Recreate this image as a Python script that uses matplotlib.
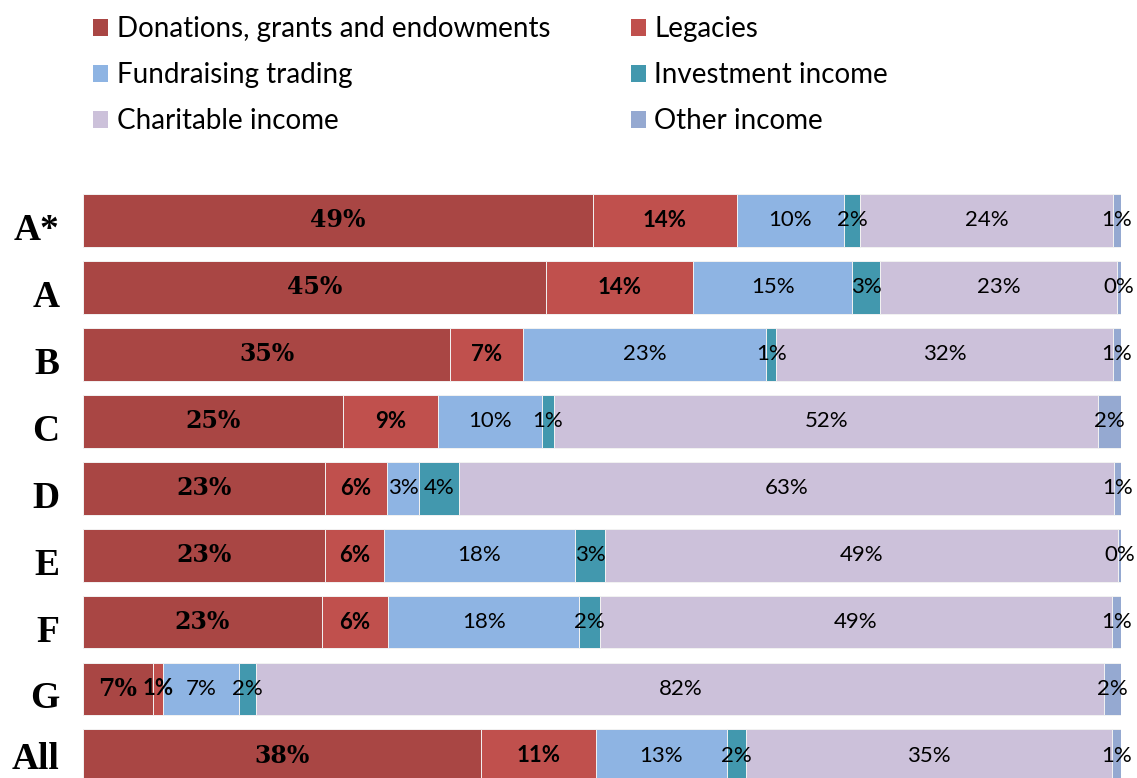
import matplotlib
matplotlib.use("Agg")
import matplotlib.pyplot as plt
from matplotlib.patches import Patch
from matplotlib.transforms import ScaledTranslation
import numpy as np

categories = ["A*", "A", "B", "C", "D", "E", "F", "G", "All"]
series_names = ["Donations, grants and endowments", "Legacies", "Fundraising trading",
                "Investment income", "Charitable income", "Other income"]
donations   = [49.1, 44.6, 35.4, 25.0, 23.3, 23.3, 23.0, 6.7, 38.3]
legacies    = [13.9, 14.2, 7.0, 9.2, 6.0, 5.7, 6.4, 1.0, 11.1]
fundraising = [10.3, 15.3, 23.4, 10.0, 3.1, 18.4, 18.4, 7.3, 12.6]
investment  = [1.6, 2.7, 1.0, 1.2, 3.8, 2.9, 2.0, 1.7, 1.9]
charitable  = [24.3, 22.8, 32.4, 52.4, 63.1, 49.4, 49.3, 81.7, 35.2]
other       = [0.8, 0.4, 0.8, 2.2, 0.7, 0.3, 0.9, 1.6, 0.9]

series = [donations, legacies, fundraising, investment, charitable, other]
colors = ["#A94644", "#C0504D", "#8EB4E3", "#4298AE", "#CCC1DA", "#95A9D1"]

fig = plt.figure(figsize=(11.37, 7.78), dpi=100)
ax = fig.add_axes([83 / 1137, 0.0, 1038 / 1137, (778 - 185) / 778])

y = np.arange(len(categories))
left = np.zeros(len(categories))
handles = []
for i, (vals, col) in enumerate(zip(series, colors)):
    vals = np.array(vals)
    ax.barh(y, vals, left=left, height=0.79, color=col,
            edgecolor="#F2F2F2", linewidth=0.7)
    for j, v in enumerate(vals):
        cx = left[j] + v / 2
        txt = f"{v:.0f}%"
        if i == 0:
            ax.text(cx, y[j], txt, ha="center", va="center", fontsize=17,
                    fontweight="bold", family="DejaVu Serif", color="black")
        elif i == 1:
            ax.text(cx, y[j], txt, ha="center", va="center", fontsize=16,
                    fontweight="bold", family="Lato", color="black")
        else:
            ax.text(cx, y[j], txt, ha="center", va="center", fontsize=16,
                    family="Lato", color="black")
    left += vals
    handles.append(Patch(facecolor=col, edgecolor="none", label=series_names[i]))

ax.set_xlim(0, 100)
ax.set_ylim(8.33, -0.53)
ax.set_yticks(y)
ax.set_yticklabels(categories, fontsize=27, fontweight="bold", family="Liberation Serif")
ax.tick_params(axis="y", length=0, pad=17)
ticklabels = ax.get_yticklabels()
for lbl in ticklabels[:-1]:
    lbl.set_transform(lbl.get_transform()
                      + ScaledTranslation(0, -6 / 100, fig.dpi_scale_trans))
ax.set_xticks([])
for s in ax.spines.values():
    s.set_visible(False)

order = [0, 2, 4, 1, 3, 5]
leg = fig.legend([handles[k] for k in order], [series_names[k] for k in order],
                 ncol=2, loc="upper left", bbox_to_anchor=(68 / 1137, 1.011),
                 frameon=False, handlelength=0.55, handleheight=0.55,
                 handletextpad=0.3, columnspacing=2.9, labelspacing=0.72,
                 prop={"family": "Lato", "size": 20})

fig.savefig("out.png", dpi=100)
